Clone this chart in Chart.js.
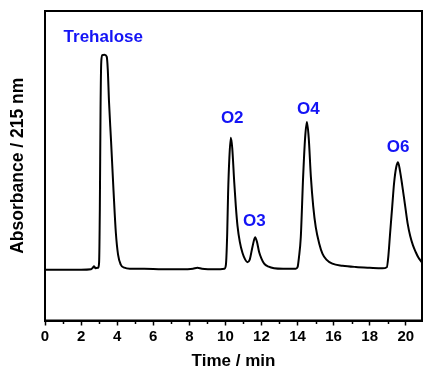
<!DOCTYPE html>
<html>
<head>
<meta charset="utf-8">
<script src="https://cdn.jsdelivr.net/npm/chart.js@4.4.1/dist/chart.umd.min.js"></script>
<style>
html,body{margin:0;padding:0;background:#fff;}
#wrap{width:425px;height:372px;position:relative;}
</style>
</head>
<body>
<div id="wrap"><canvas id="c" width="425" height="372"></canvas></div>
<script>
const timeMin = [0, 1, 2, 2.55, 2.65, 2.72, 2.8, 2.95, 3.0, 3.04, 3.08, 3.12, 3.18, 3.3, 3.42, 3.48, 3.55, 3.66, 3.8, 3.93, 4.05, 4.2, 4.4, 4.7, 5.5, 6.5, 7.5, 8.2, 8.45, 8.7, 9.5, 9.95, 10.03, 10.1, 10.15, 10.22, 10.3, 10.38, 10.49, 10.58, 10.67, 10.8, 10.95, 11.1, 11.22, 11.35, 11.5, 11.65, 11.75, 11.87, 12.0, 12.15, 12.4, 12.7, 13.2, 13.9, 14.0, 14.08, 14.18, 14.31, 14.42, 14.52, 14.62, 14.74, 14.87, 15.01, 15.2, 15.38, 15.6, 15.93, 16.5, 17.23, 18.0, 18.7, 18.95, 19.03, 19.13, 19.25, 19.35, 19.47, 19.57, 19.68, 19.81, 19.95, 20.1, 20.25, 20.4, 20.55, 20.7, 20.88];
const absorbance = [0, 0, 0, 0.01, 0.04, 0.07, 0.03, 0.04, 0.15, 1.2, 3.2, 4.1, 4.23, 4.24, 4.2, 3.95, 3.3, 2.55, 1.55, 0.72, 0.3, 0.1, 0.04, 0.02, 0.02, 0.01, 0.01, 0.02, 0.04, 0.02, 0.01, 0.02, 0.1, 0.7, 1.5, 2.2, 2.6, 2.4, 1.73, 1.25, 0.87, 0.55, 0.33, 0.2, 0.15, 0.2, 0.45, 0.64, 0.55, 0.35, 0.22, 0.12, 0.06, 0.03, 0.02, 0.02, 0.05, 0.25, 0.64, 1.83, 2.6, 2.91, 2.6, 1.83, 1.25, 0.84, 0.52, 0.32, 0.2, 0.12, 0.08, 0.055, 0.04, 0.03, 0.05, 0.25, 0.71, 1.25, 1.7, 2.02, 2.12, 1.95, 1.65, 1.3, 0.92, 0.66, 0.48, 0.35, 0.24, 0.15];

const peakLabels = ['Trehalose', 'O2', 'O3', 'O4', 'O6'];
const peakLabelX = [3.23, 10.38, 11.6, 14.6, 19.57];
const peakLabelY = [4.59, 2.98, 0.95, 3.16, 2.42];

const xTickStep = 2;
const xMinorStep = 1;

const points = timeMin.map((t, i) => ({x: t, y: absorbance[i]}));

const framePlugin = {
  id: 'frame',
  afterDraw(chart) {
    const ctx = chart.ctx;
    const a = chart.chartArea;
    const xs = chart.scales.x;
    ctx.save();
    ctx.strokeStyle = '#000';
    ctx.lineWidth = 2;
    ctx.strokeRect(a.left, a.top, a.right - a.left, a.bottom - a.top);
    ctx.lineWidth = 1.5;
    for (let v = xs.min; v <= xs.max + 1e-9; v += xMinorStep) {
      if (Math.abs(v % xTickStep) < 1e-9) continue;
      const px = Math.round(xs.getPixelForValue(v)) + 0.5;
      ctx.beginPath();
      ctx.moveTo(px, a.bottom);
      ctx.lineTo(px, a.bottom + 3.5);
      ctx.stroke();
    }
    const ys = chart.scales.y;
    ctx.fillStyle = '#1414f5';
    ctx.font = 'bold 17px "Liberation Sans", Arial, sans-serif';
    ctx.textAlign = 'center';
    ctx.textBaseline = 'middle';
    peakLabels.forEach((s, i) => {
      ctx.fillText(s, xs.getPixelForValue(peakLabelX[i]), ys.getPixelForValue(peakLabelY[i]));
    });
    ctx.restore();
  }
};

new Chart(document.getElementById('c'), {
  type: 'line',
  data: {
    datasets: [{
      data: points,
      borderColor: '#000',
      borderWidth: 2,
      pointRadius: 0,
      fill: false,
      cubicInterpolationMode: 'monotone'
    }]
  },
  options: {
    responsive: false,
    animation: false,
    events: [],
    layout: {padding: {top: 11, right: 3, left: 0, bottom: 0}},
    plugins: {legend: {display: false}, tooltip: {enabled: false}},
    scales: {
      x: {
        type: 'linear',
        min: 0,
        max: 20.9,
        afterFit(s) { s.height = 51.5; },
        afterBuildTicks(s) {
          const t = [];
          for (let v = 0; v <= 20; v += xTickStep) t.push({value: v});
          s.ticks = t;
        },
        border: {display: true, color: '#000', width: 2},
        grid: {display: true, drawOnChartArea: false, drawTicks: true, tickLength: 5, tickWidth: 1.5, tickColor: '#000'},
        ticks: {
          color: '#000',
          padding: 2,
          maxRotation: 0,
          autoSkip: false,
          font: {family: '"Liberation Sans", Arial, sans-serif', size: 15, weight: 'bold'},
          callback: v => String(v)
        },
        title: {
          display: true,
          text: 'Time / min',
          color: '#000',
          padding: {top: 6, bottom: 0},
          font: {family: '"Liberation Sans", Arial, sans-serif', size: 17, weight: 'bold'}
        }
      },
      y: {
        type: 'linear',
        min: -1,
        max: 5.1,
        afterFit(s) { s.width = 45; },
        border: {display: true, color: '#000', width: 2},
        grid: {display: false},
        ticks: {display: false},
        title: {
          display: true,
          text: 'Absorbance / 215 nm',
          color: '#000',
          padding: {top: 8, bottom: 0},
          font: {family: '"Liberation Sans", Arial, sans-serif', size: 17.5, weight: 'bold'}
        }
      }
    }
  },
  plugins: [framePlugin]
});
</script>
</body>
</html>
